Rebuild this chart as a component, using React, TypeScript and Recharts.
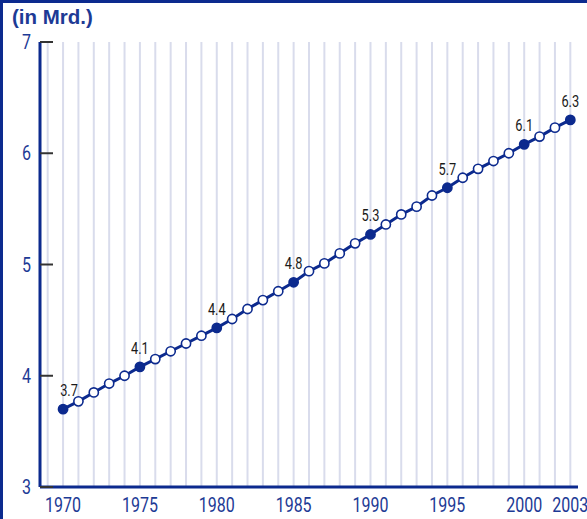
import { LineChart, Line, XAxis, YAxis, ReferenceLine, LabelList } from "recharts"

// world population, billions
const years = [
  1970, 1971, 1972, 1973, 1974, 1975, 1976, 1977, 1978, 1979,
  1980, 1981, 1982, 1983, 1984, 1985, 1986, 1987, 1988, 1989,
  1990, 1991, 1992, 1993, 1994, 1995, 1996, 1997, 1998, 1999,
  2000, 2001, 2002, 2003,
]
const population = [
  3.7, 3.77, 3.85, 3.93, 4.0, 4.08, 4.15, 4.22, 4.29, 4.36,
  4.43, 4.51, 4.6, 4.68, 4.76, 4.84, 4.94, 5.01, 5.1, 5.19,
  5.27, 5.36, 5.45, 5.52, 5.62, 5.69, 5.78, 5.86, 5.93, 6.0,
  6.08, 6.15, 6.23, 6.3,
]
const labelYears = [1970, 1975, 1980, 1985, 1990, 1995, 2000, 2003]
const labelTexts = ["3.7", "4.1", "4.4", "4.8", "5.3", "5.7", "6.1", "6.3"]
const xTicks = [1970, 1975, 1980, 1985, 1990, 1995, 2000, 2003]
const yTicks = [3, 4, 5, 6, 7]
const gridYears = [
  1969, 1970, 1971, 1972, 1973, 1974, 1975, 1976, 1977, 1978, 1979,
  1980, 1981, 1982, 1983, 1984, 1985, 1986, 1987, 1988, 1989,
  1990, 1991, 1992, 1993, 1994, 1995, 1996, 1997, 1998, 1999,
  2000, 2001, 2002, 2003,
]

const BLUE = "#0c2a8e"
const TEXT_BLUE = "#1d3a95"
const FONT = "Roboto, 'DejaVu Sans', sans-serif"
// the original uses a condensed face; squeeze Roboto horizontally
const SQUEEZE = 0.8

const data = years.map((year, i) => {
  const k = labelYears.indexOf(year)
  return { year, value: population[i], label: k >= 0 ? labelTexts[k] : "", key: k >= 0 }
})

function YTick(props: any) {
  const { x, y, payload } = props
  return (
    <g>
      <line x1={x + 9} x2={x + 22} y1={y} y2={y} stroke="#333" strokeWidth={2} />
      <text
        transform={`translate(${x},${y}) scale(${SQUEEZE},1)`}
        dy="0.36em"
        textAnchor="end"
        fill={TEXT_BLUE}
        fontSize={20}
        fontFamily={FONT}
      >
        {payload.value}
      </text>
    </g>
  )
}

function XTick(props: any) {
  const { x, y, payload } = props
  return (
    <text
      transform={`translate(${x},${y}) scale(${SQUEEZE},1)`}
      dy="0.72em"
      textAnchor="middle"
      fill={TEXT_BLUE}
      fontSize={20}
      fontFamily={FONT}
    >
      {payload.value}
    </text>
  )
}

function Dot(props: any) {
  const { cx, cy, payload, index } = props
  return (
    <circle
      key={`dot-${index}`}
      cx={cx}
      cy={cy}
      r={4.6}
      fill={payload.key ? BLUE : "#fff"}
      stroke={BLUE}
      strokeWidth={1.6}
    />
  )
}

function PointLabel(props: any) {
  const { x, y, value, index } = props
  if (!value) return null
  const lx = x + (index === 0 ? 6 : 0)
  return (
    <text
      transform={`translate(${lx},${y - 13}) scale(${SQUEEZE},1)`}
      textAnchor="middle"
      fill="#1a1a1a"
      fontSize={16}
      fontFamily={FONT}
    >
      {value}
    </text>
  )
}

export default function App() {
  return (
    <div style={{ position: "absolute", left: 0, top: 0, width: 587, height: 519, background: "#fff" }}>
      <div
        style={{
          position: "absolute",
          left: 0,
          top: 0,
          width: 587,
          height: 519,
          boxSizing: "border-box",
          borderTop: `3px solid ${BLUE}`,
          borderLeft: `3px solid ${BLUE}`,
        }}
      />
      <div
        style={{
          position: "absolute",
          left: 12,
          top: 5,
          fontFamily: "'Liberation Sans', Arial, sans-serif",
          fontWeight: 700,
          fontSize: 20.5,
          color: TEXT_BLUE,
        }}
      >
        (in Mrd.)
      </div>
      <div style={{ position: "absolute", left: 0, top: 0 }}>
        <LineChart width={587} height={519} data={data} margin={{ top: 42, right: 9, left: 0, bottom: 0 }}>
          {gridYears.map((g) => (
            <ReferenceLine key={g} x={g} stroke="#d9dcec" strokeWidth={2} />
          ))}
          <XAxis
            dataKey="year"
            type="number"
            domain={[1968.5, 2003.5]}
            ticks={xTicks}
            height={32}
            tickSize={0}
            tickMargin={11}
            tickLine={false}
            axisLine={{ stroke: BLUE, strokeWidth: 3 }}
            tick={<XTick />}
            interval={0}
          />
          <YAxis
            type="number"
            domain={[3, 7]}
            ticks={yTicks}
            width={40}
            tickSize={0}
            tickMargin={9}
            tickLine={false}
            axisLine={{ stroke: BLUE, strokeWidth: 3 }}
            tick={<YTick />}
            interval={0}
          />
          <Line
            dataKey="value"
            stroke={BLUE}
            strokeWidth={3}
            dot={<Dot />}
            activeDot={false}
            isAnimationActive={false}
          >
            <LabelList dataKey="label" content={<PointLabel />} />
          </Line>
        </LineChart>
      </div>
    </div>
  )
}
